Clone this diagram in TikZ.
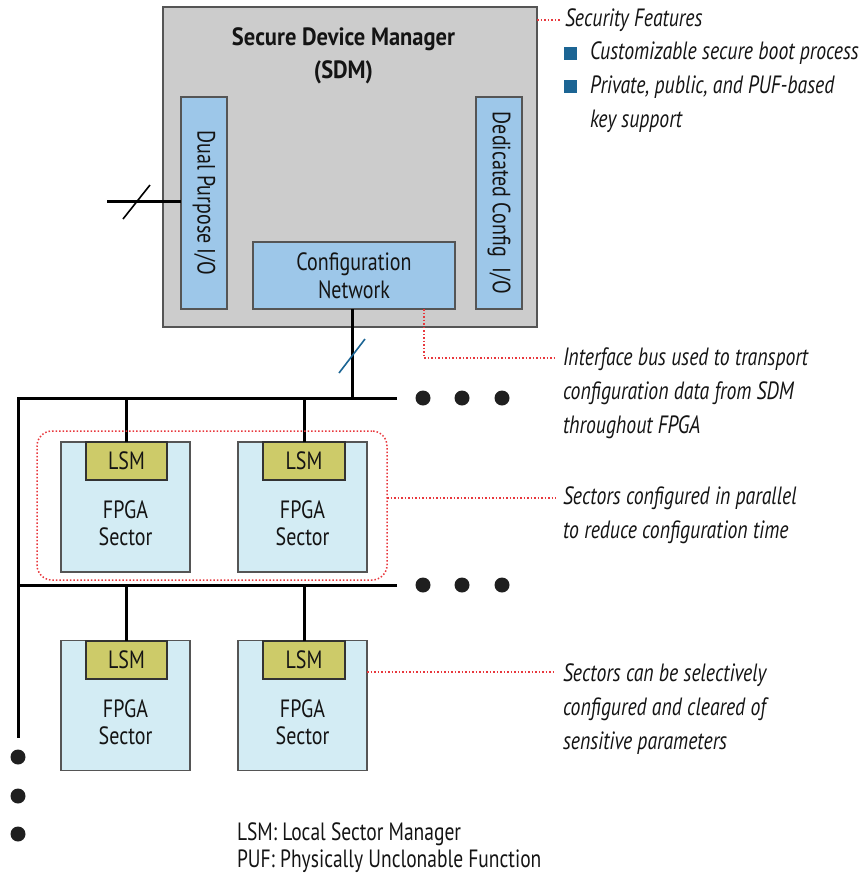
\documentclass[tikz,border=0pt]{standalone}
\usepackage{fontspec}
\setmainfont{PT Sans}[FakeStretch=0.80]
\newfontfamily\itfont{PT Sans}[FakeStretch=0.79]
\newfontfamily\titlefont{PT Sans}[FakeStretch=0.90]
\newfontfamily\legfont{PT Sans}[FakeStretch=0.78]
\definecolor{sdmgray}{HTML}{CCCCCC}
\definecolor{iob}{HTML}{9DC7E9}
\definecolor{secb}{HTML}{D3ECF4}
\definecolor{lsmc}{HTML}{CDCB69}
\definecolor{bul}{HTML}{1C6594}
\definecolor{redd}{HTML}{E8383D}
\definecolor{edgec}{HTML}{555555}
\begin{document}
\begin{tikzpicture}[x=1pt,y=-1pt,
  every node/.style={inner sep=0pt, outer sep=0pt, text=black!92},
  box/.style={draw=edgec, line width=1.4pt},
  sdmbox/.style={box, fill=sdmgray},
  iobox/.style={box, fill=iob},
  secbox/.style={box, fill=secb},
  lsmbox/.style={box, fill=lsmc, draw=black!80},
  bus/.style={line width=3pt, black},
  busdot/.style={circle, fill=black!88, minimum size=15pt},
  note/.style={draw=redd, line width=1.5pt, dotted},
  lbl/.style={font=\fontsize{25}{34}\selectfont\itfont\itshape, align=left, anchor=west},
  boxtxt/.style={font=\fontsize{25}{28}\selectfont, align=center},
  sectxt/.style={font=\fontsize{25}{27}\selectfont, align=center},
  bulsq/.style={fill=bul, minimum size=13pt},
  slash/.style={line width=1.6pt}
]
\useasboundingbox (0,0) rectangle (865,879);
% SDM
\node[sdmbox, minimum width=374pt, minimum height=320pt] (sdm) at (350,167) {};
\node[font=\fontsize{25}{33}\selectfont\titlefont\bfseries, align=center] (sdmt) at (343.5,56) {Secure Device Manager\\(SDM)};
\node[iobox, boxtxt, minimum width=212pt, minimum height=46pt, rotate=-90] (dpio) at (204,203) {Dual Purpose I/O};
\node[iobox, boxtxt, minimum width=212pt, minimum height=46pt, rotate=-90] (dcio) at (499,203) {Dedicated Config\ \ I/O};
\node[iobox, boxtxt, minimum width=202pt, minimum height=67pt] (cfg) at (354,275.5) {Configuration\\Network};
% dual purpose io line
\coordinate (dpin) at (107,201);
\draw[bus] (dpin) -- (dpin -| dpio.south);
\coordinate (s1a) at (123,219);
\coordinate (s1b) at (150,185);
\draw[slash] (s1a) -- (s1b);
% config network to bus
\coordinate (j1) at (352,398);
\draw[bus] (cfg.south -| j1) -- (j1);
\coordinate (s2a) at (339,373);
\coordinate (s2b) at (365,339);
\draw[slash, bul] (s2a) -- (s2b);
% buses
\coordinate (b1r) at (397,398);
\coordinate (b1l) at (18,398);
\coordinate (vbot) at (18,738);
\coordinate (b2r) at (397,585);
\draw[bus] (b1r) -- (b1l) -- (vbot);
\draw[bus] (b2r) -- (b2r -| b1l);
\foreach \x/\n in {423/a,462/b,502/c} {
  \node[busdot] (d1\n) at (\x,398) {};
  \node[busdot] (d2\n) at (\x,585) {};
}
\foreach \y/\n in {757/a,796/b,834/c} {
  \node[busdot] (dv\n) at (18,\y) {};
}
% sectors
\node[secbox, minimum width=129pt, minimum height=130pt] (s11) at (125.5,507) {};
\node[secbox, minimum width=129pt, minimum height=130pt] (s12) at (302.5,507) {};
\node[secbox, minimum width=129pt, minimum height=130pt] (s21) at (125.5,705.5) {};
\node[secbox, minimum width=129pt, minimum height=130pt] (s22) at (302.5,705.5) {};
\node[lsmbox, boxtxt, minimum width=81pt, minimum height=38pt] (l11) at (126.5,461) {LSM};
\node[lsmbox, boxtxt, minimum width=82pt, minimum height=38pt] (l12) at (304,461) {LSM};
\node[lsmbox, boxtxt, minimum width=81pt, minimum height=38pt] (l21) at (126.5,660) {LSM};
\node[lsmbox, boxtxt, minimum width=82pt, minimum height=38pt] (l22) at (304,660) {LSM};
\node[sectxt] (t11) at (125.5,523.5) {FPGA\\Sector};
\node[sectxt] (t12) at (302.5,523.5) {FPGA\\Sector};
\node[sectxt] (t21) at (125.5,722.5) {FPGA\\Sector};
\node[sectxt] (t22) at (302.5,722.5) {FPGA\\Sector};
\draw[bus] (l11.north) -- (l11.north |- b1l);
\draw[bus] (l12.north) -- (l12.north |- b1l);
\draw[bus] (l21.north) -- (l21.north |- b2r);
\draw[bus] (l22.north) -- (l22.north |- b2r);
% group
\node[draw=redd, dotted, line width=1.5pt, rounded corners=15pt, minimum width=350pt, minimum height=149pt] (grp) at (212,505.5) {};
% labels
\node[lbl] (L1) at (565,20) {Security Features};
\node[bulsq] (bu1) at (570,53) {};
\node[lbl] (L1a) at (590,53) {Customizable secure boot process};
\node[bulsq] (bu2) at (570,86) {};
\node[lbl] (L1b) at (590,104) {Private, public, and PUF-based\\key support};
\node[lbl] (L2) at (563,393.5) {Interface bus used to transport\\configuration data from SDM\\throughout FPGA};
\node[lbl] (L3) at (563,515.5) {Sectors configured in parallel\\to reduce configuration time};
\node[lbl] (L4) at (563,709.5) {Sectors can be selectively\\configured and cleared of\\sensitive parameters};
\node[font=\fontsize{25}{27}\selectfont\legfont, align=left, anchor=west] (leg) at (237,848) {LSM: Local Sector Manager\\PUF: Physically Unclonable Function};
% red connectors
\path (L1.west) ++(-5,0) coordinate (k1e);
\draw[note] (sdm.east |- k1e) -- (k1e);
\coordinate (k2) at (424,358);
\path (L2.west |- k2) ++(-7,0) coordinate (k2e);
\draw[note] (cfg.south -| k2) -- (k2) -- (k2e);
\coordinate (y3) at (0,498);
\path (L3.west |- y3) ++(-7,0) coordinate (k3e);
\draw[note] (grp.east |- y3) -- (k3e);
\coordinate (y4) at (0,672);
\path (L4.west |- y4) ++(-7,0) coordinate (k4e);
\draw[note] (s22.east |- y4) -- (k4e);
\end{tikzpicture}
\end{document}
